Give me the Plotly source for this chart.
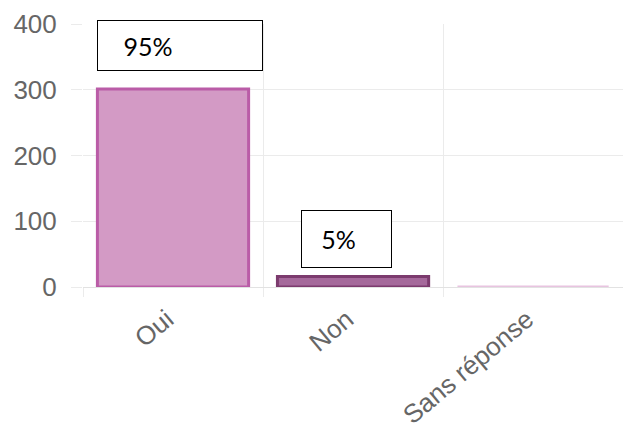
import plotly.graph_objects as go

categories = ["Oui", "Non", "Sans réponse"]
values = [301, 16, 0]
percent_labels = ["95%", "5%", None]
fill_colors = ["#d39ac5", "#a5699b", "#ecd0e6"]
line_colors = ["#ba5ca7", "#7c3b6e", "#e8c4e0"]
y_ticks = [0, 100, 200, 300, 400]

fig = go.Figure()
fig.add_trace(go.Bar(
    x=categories,
    y=values,
    width=0.84,
    cliponaxis=False,
    marker=dict(color=fill_colors, line=dict(color=line_colors, width=3)),
    showlegend=False,
))

grid = "#ebebeb"
# page body has an 8px margin, so the figure is offset by (8, 8) on screen
fig.update_layout(
    width=631, height=432,
    margin=dict(l=75, r=8, t=16, b=153, autoexpand=False),
    paper_bgcolor="white", plot_bgcolor="white",
    font=dict(family="Liberation Sans, Arial, sans-serif", color="#666666", size=26),
    xaxis=dict(
        type="category",
        range=[-0.5, 2.544],
        tickson="boundaries",
        showgrid=True, gridcolor=grid, gridwidth=1,
        ticks="outside", ticklen=9, tickcolor=grid,
        tickangle=-40,
        ticklabelshift=-6, ticklabelstandoff=6,
        tickfont=dict(size=26, color="#666666"),
        showline=True, linecolor="#e2e2e2", linewidth=1,
        zeroline=False,
    ),
    yaxis=dict(
        range=[0, 400],
        tickvals=y_ticks,
        ticktext=[str(v) for v in y_ticks],
        showgrid=True, gridcolor=grid, gridwidth=1,
        ticks="outside", ticklen=11, tickcolor=grid,
        ticklabelstandoff=9,
        tickfont=dict(size=26, color="#666666"),
        zeroline=False, showline=False,
    ),
)

shifts = {"Oui": (6.5, 18, 164, 49, 4), "Non": (-6.5, 8, 89, 56, 3)}
for cat, val, lab in zip(categories, values, percent_labels):
    if lab is None:
        continue
    dx, dy, w, h, pad = shifts[cat]
    fig.add_annotation(
        x=cat, y=val, xref="x", yref="y",
        xanchor="center", yanchor="bottom",
        xshift=dx, yshift=dy,
        text="&nbsp;" * pad + lab,
        align="left", valign="middle",
        width=w, height=h,
        showarrow=False,
        bordercolor="black", borderwidth=1, borderpad=0,
        bgcolor="white",
        font=dict(family="Lato, Carlito, sans-serif", size=25, color="black"),
    )

fig.write_html("out.html")
